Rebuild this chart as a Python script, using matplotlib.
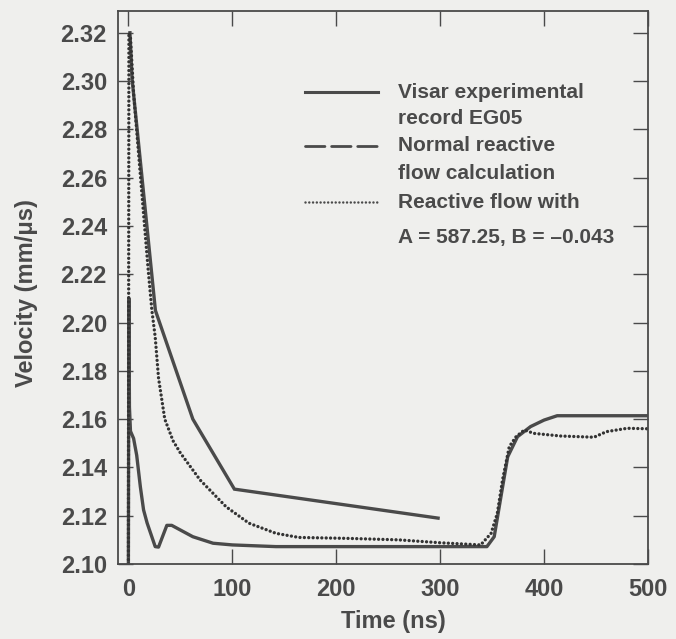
import matplotlib
matplotlib.use("Agg")
import matplotlib.pyplot as plt
from matplotlib.lines import Line2D

plt.rcParams["font.family"] = ["Liberation Sans", "DejaVu Sans"]

# Visar experimental record EG05 (ends near 300 ns)
visar_t = [1.5, 3.5, 26, 62, 102, 298]
visar_v = [2.320, 2.301, 2.205, 2.160, 2.131, 2.119]

# Normal reactive flow calculation
normal_t = [0, 0.5, 1, 2, 5, 8, 11.5, 14.6, 18, 25.8, 29, 37, 41.7, 62, 81.5,
            100, 142, 212, 345, 352, 358.5, 365, 374.4, 387, 400, 412.6, 500]
normal_v = [2.100, 2.210, 2.165, 2.155, 2.152, 2.145, 2.132, 2.1224, 2.117,
            2.1072, 2.107, 2.116, 2.116, 2.1113, 2.1086, 2.1079, 2.1072, 2.1072,
            2.1072, 2.1113, 2.1279, 2.1444, 2.1527, 2.1569, 2.1596, 2.1614, 2.1614]

# Reactive flow with A = 587.25, B = -0.043
fit_t = [0, 0.5, 2, 5, 19, 22.6, 25.8, 29, 35, 43, 50, 69, 94, 116, 142, 164,
         212, 260, 300, 339, 349, 355, 360, 366.5, 373, 381, 390, 416, 448,
         460, 480, 500]
fit_v = [2.100, 2.320, 2.318, 2.295, 2.222, 2.205, 2.194, 2.177, 2.160, 2.151,
         2.146, 2.1348, 2.1237, 2.1169, 2.1127, 2.1110, 2.1106, 2.1100, 2.1088,
         2.1079, 2.1127, 2.1210, 2.1348, 2.1486, 2.1527, 2.1555, 2.1541, 2.1530,
         2.1525, 2.1548, 2.1562, 2.1560]

x_ticks = [0, 100, 200, 300, 400, 500]
y_ticks = [2.10, 2.12, 2.14, 2.16, 2.18, 2.20, 2.22, 2.24, 2.26, 2.28, 2.30, 2.32]

legend_first = ["Visar experimental", "Normal reactive", "Reactive flow with"]
legend_second = ["record EG05", "flow calculation", "A = 587.25, B = \u20130.043"]
legend_styles = ["-", (0, (7.0, 2.4)), (0, (0.01, 1.5))]
legend_widths = [2.2, 2.0, 1.8]

INK = "#4a4a4a"
PAPER = "#efefed"
DOTS = (0, (0.01, 1.3))

fig = plt.figure(figsize=(6.76, 6.39), dpi=100, facecolor=PAPER)
ax = fig.add_axes([118 / 676, 75 / 639, 530 / 676, 553 / 639])
ax.set_facecolor(PAPER)

ax.plot(visar_t, visar_v, color=INK, lw=2.4, solid_joinstyle="miter")
ax.plot(normal_t, normal_v, color=INK, lw=2.4)
ax.plot(fit_t, fit_v, color="#333333", lw=2.4, linestyle=DOTS, dash_capstyle="round")

ax.set_xlim(-10, 500)
ax.set_ylim(2.10, 2.329)
ax.set_xticks(x_ticks)
ax.set_yticks(y_ticks)
ax.set_yticklabels([f"{v:.2f}" for v in y_ticks])
ax.tick_params(axis="both", direction="in", length=11, width=1.0, color=INK,
               labelsize=17, labelcolor=INK, top=True, right=True)
ax.tick_params(axis="y", pad=8)
ax.tick_params(axis="x", pad=10)
for lbl in ax.get_xticklabels() + ax.get_yticklabels():
    lbl.set_fontweight("bold")
for sp in ax.spines.values():
    sp.set_color(INK)
    sp.set_linewidth(1.3)

ax.set_xlabel("Time (ns)", fontsize=17, fontweight="bold", color=INK, va="top")
ax.xaxis.set_label_coords(0.519, -0.083)
ax.set_ylabel("Velocity (mm/\u03bcs)", fontsize=17, fontweight="bold", color=INK)
ax.yaxis.set_label_coords(-0.151, 0.49)

# legend built by hand so the key line sits next to the first text line
key_y = [0.8535, 0.7559, 0.6546]
second_y = [0.8065, 0.707, 0.5913]
for style, width, first, second, ky, sy in zip(legend_styles, legend_widths, legend_first,
                                               legend_second, key_y, second_y):
    ax.add_line(Line2D([0.353, 0.491], [ky, ky], transform=ax.transAxes,
                       color=INK, lw=width, linestyle=style, dash_capstyle="round"))
    ax.text(0.528, ky, first, transform=ax.transAxes, fontsize=15,
            fontweight="bold", color=INK, va="center", ha="left")
    ax.text(0.528, sy, second, transform=ax.transAxes, fontsize=15,
            fontweight="bold", color=INK, va="center", ha="left")

fig.savefig("out.png", dpi=100, facecolor=PAPER)
plt.close(fig)
